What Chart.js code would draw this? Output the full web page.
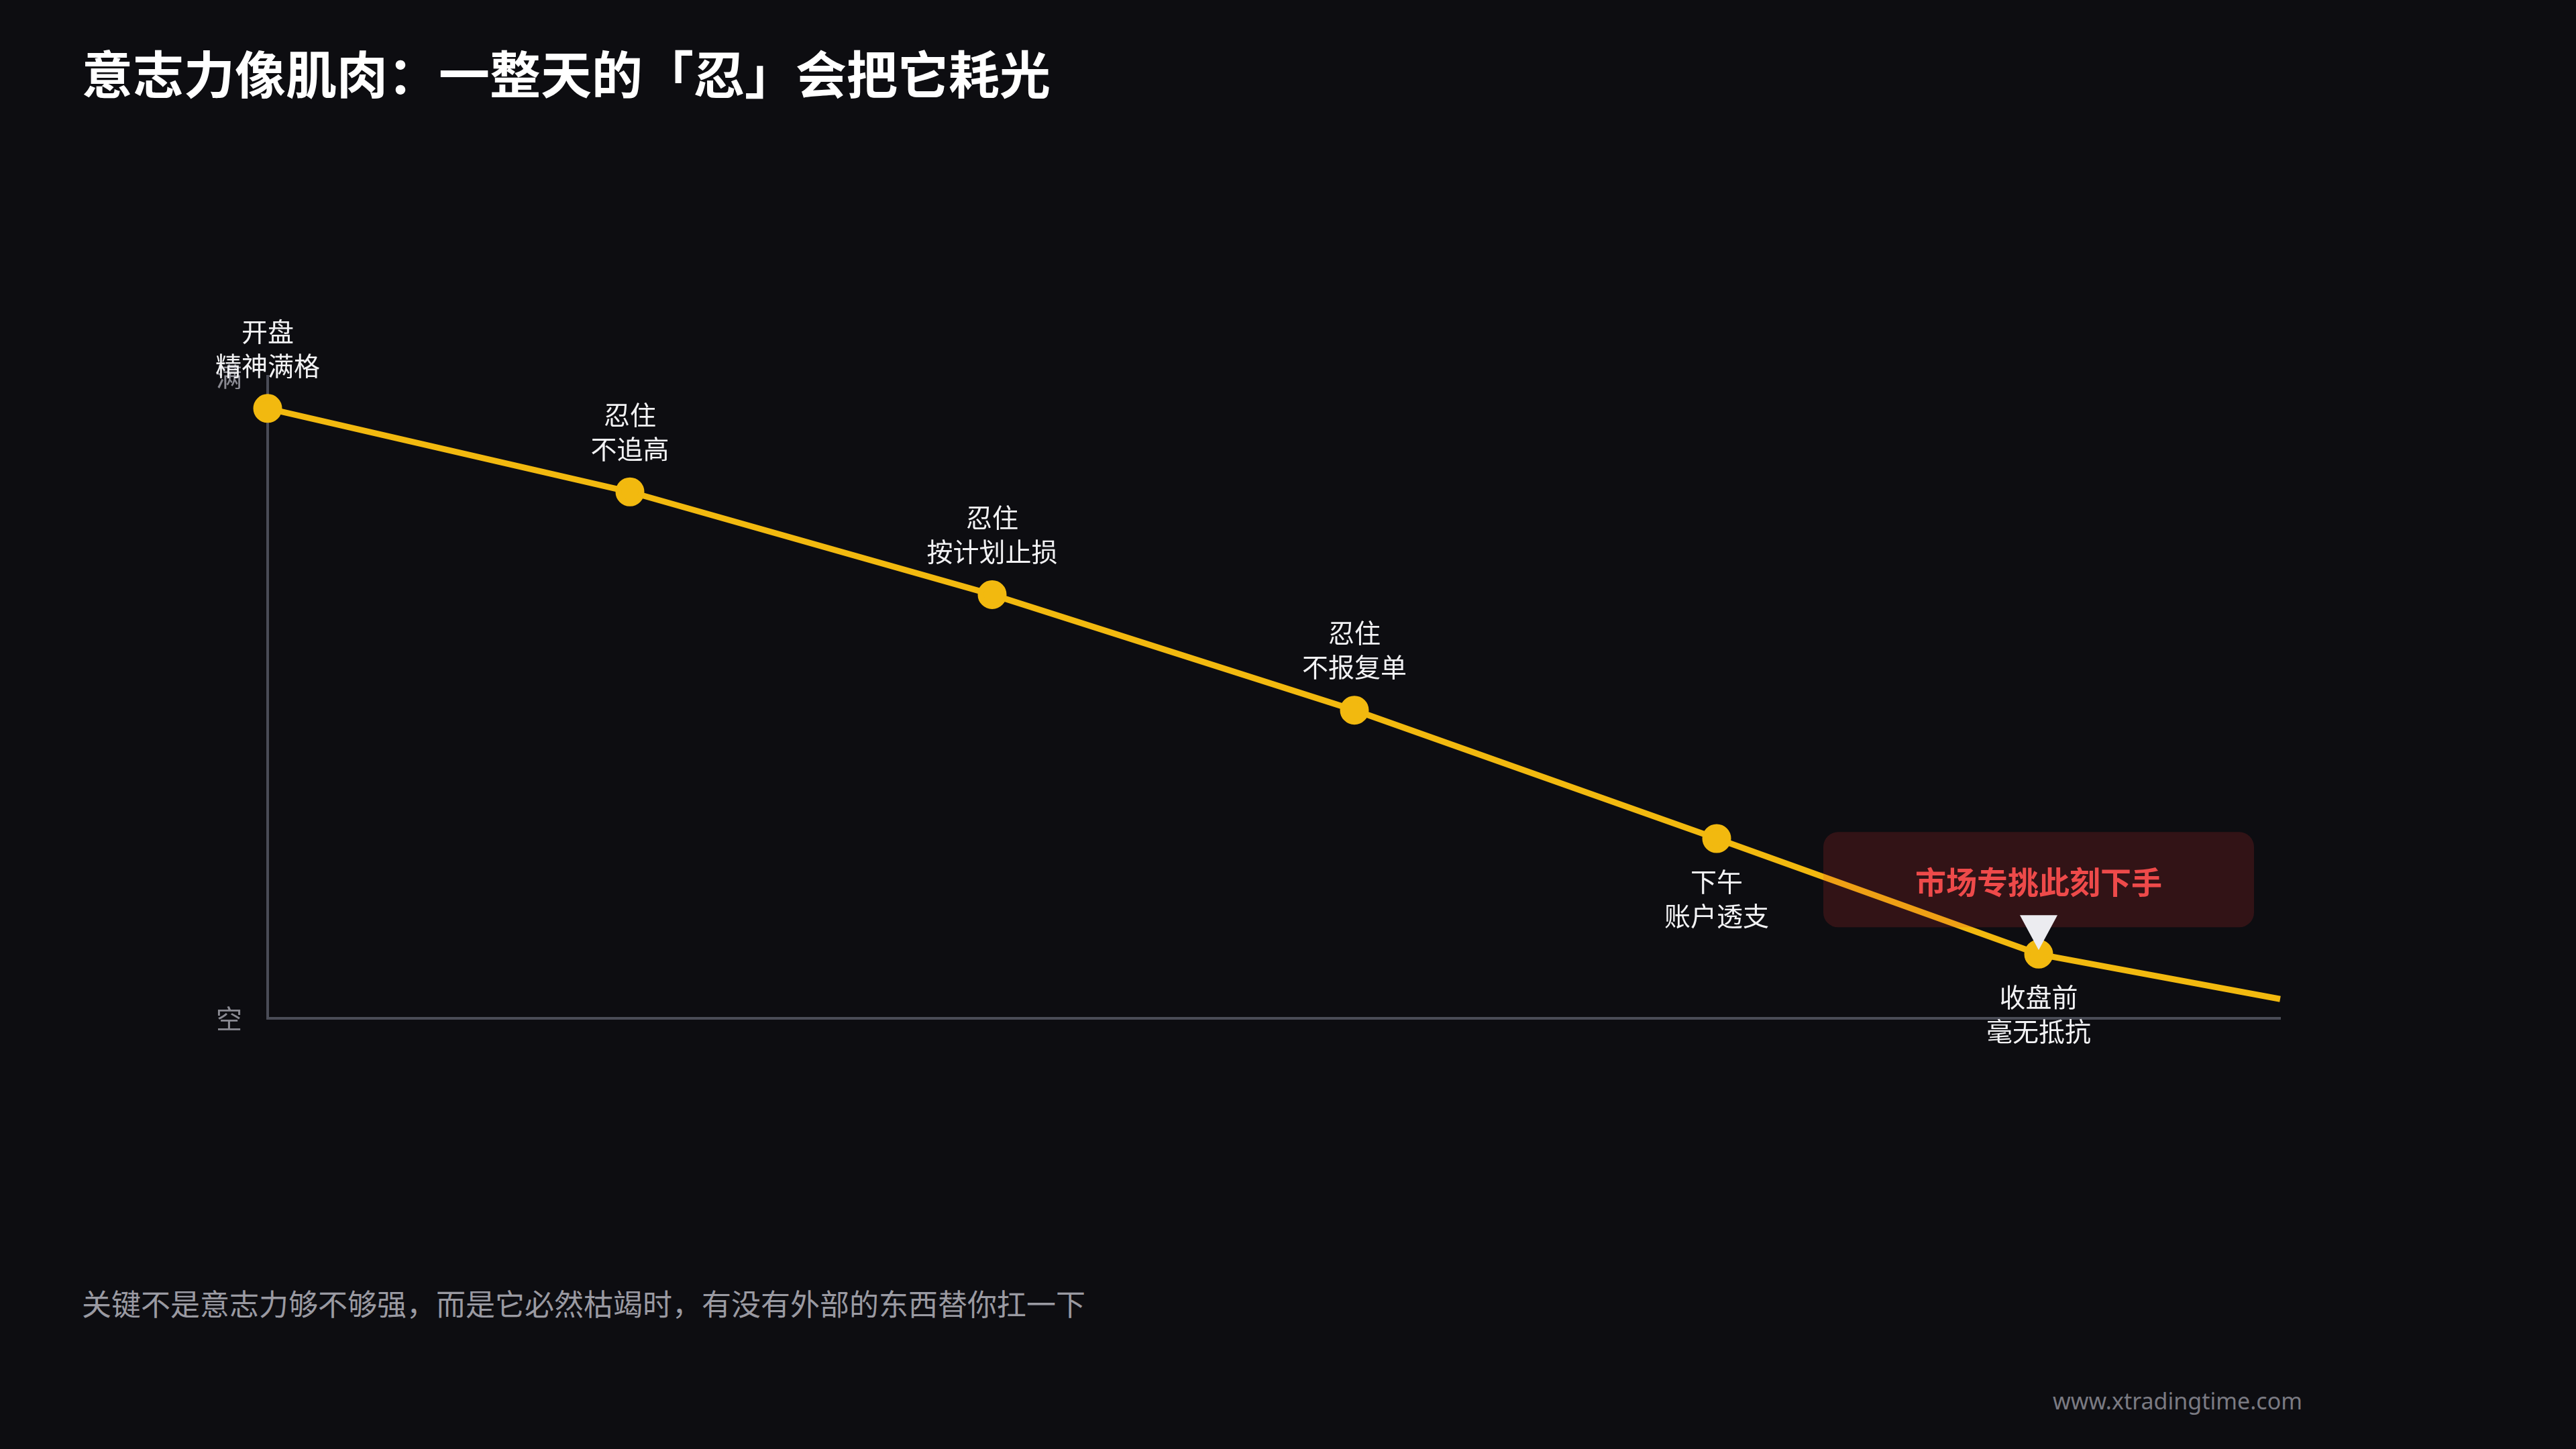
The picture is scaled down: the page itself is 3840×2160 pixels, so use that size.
<!DOCTYPE html>
<html><head><meta charset="utf-8">
<script src="https://cdn.jsdelivr.net/npm/chart.js@4/dist/chart.umd.min.js"></script>
<style>
html,body{margin:0;padding:0;background:#0d0d11;width:3840px;height:2160px;overflow:hidden;font-family:"Noto Sans CJK SC","Noto Sans",sans-serif}
#t{position:absolute;left:122px;top:52px;color:#fff;font-size:76px;font-weight:700;margin:0}
#f{position:absolute;left:122px;top:1910px;color:#9a9aa2;font-size:44px}
#u{position:absolute;left:3060px;top:2065px;color:#7a7a82;font-size:34px;font-family:"Noto Sans",sans-serif}
#c{position:absolute;left:0;top:0}
</style></head><body>
<h1 id="t">意志力像肌肉：一整天的「忍」会把它耗光</h1>
<div id="f">关键不是意志力够不够强，而是它必然枯竭时，有没有外部的东西替你扛一下</div>
<div id="u">www.xtradingtime.com</div>
<canvas id="c" width="3840" height="2160"></canvas>
<script>
const xValues=[0,18,36,54,72,88,100];
const yValues=[95,82,66,48,28,10,3];
const labelsTop=['开盘','忍住','忍住','忍住','下午','收盘前'];
const labelsBottom=['精神满格','不追高','按计划止损','不报复单','账户透支','毫无抵抗'];
const labelBelow=[false,false,false,false,true,true];
const yTickLabels={0:'空',100:'满'};
const calloutText='市场专挑此刻下手';
const calloutIndex=5;

const pts=xValues.map((x,i)=>({x:x,y:yValues[i]}));
const font='"Noto Sans CJK SC","Noto Sans",sans-serif';
const overlay={id:'overlay',afterDatasetsDraw(ch){
  const c=ch.ctx,xs=ch.scales.x,ys=ch.scales.y;
  c.save();
  c.font='39px '+font;c.fillStyle='#f2f2f4';c.textAlign='center';c.textBaseline='middle';
  labelsTop.forEach((t,i)=>{
    const px=xs.getPixelForValue(xValues[i]),py=ys.getPixelForValue(yValues[i]);
    if(labelBelow[i]){c.fillText(t,px,py+64);c.fillText(labelsBottom[i],px,py+115);}
    else{c.fillText(t,px,py-115);c.fillText(labelsBottom[i],px,py-64);}
  });
  const cx=xs.getPixelForValue(xValues[calloutIndex]),cy=ys.getPixelForValue(yValues[calloutIndex]);
  const w=642,h=142,x0=cx-w/2,y0=cy-182;
  c.fillStyle='rgba(220,50,50,0.18)';
  c.beginPath();c.roundRect(x0,y0,w,h,22);c.fill();
  c.fillStyle='#ee4a4a';c.font='bold 46px '+font;
  c.fillText(calloutText,cx,y0+74);
  c.fillStyle='#ececf0';
  c.beginPath();c.moveTo(cx-28,cy-58);c.lineTo(cx+28,cy-58);c.lineTo(cx,cy-6);c.closePath();c.fill();
  c.restore();
}};
new Chart(document.getElementById('c'),{
  type:'scatter',
  data:{datasets:[{data:pts,showLine:true,clip:false,borderColor:'#f2b90f',borderWidth:9,
    backgroundColor:'#f2b90f',pointRadius:pts.map((p,i)=>i<labelsTop.length?17:0),pointHoverRadius:0,tension:0}]},
  options:{responsive:false,animation:false,devicePixelRatio:1,
    layout:{padding:{left:279,right:441,top:561,bottom:642}},
    plugins:{legend:{display:false},tooltip:{enabled:false}},
    scales:{
      x:{type:'linear',min:0,max:100,grid:{display:false},border:{display:true,color:'#4a4c57',width:4},
         ticks:{display:false},afterFit(s){s.height=0;}},
      y:{min:0,max:100,grid:{display:false},border:{display:true,color:'#4a4c57',width:4},
         afterBuildTicks(s){s.ticks=[{value:0},{value:100}];},
         afterFit(s){s.width=120;},
         ticks:{color:'#8a8a92',font:{size:39,family:font},padding:30,callback:v=>yTickLabels[v]||''}}
    }},
  plugins:[overlay]
});
</script></body></html>
